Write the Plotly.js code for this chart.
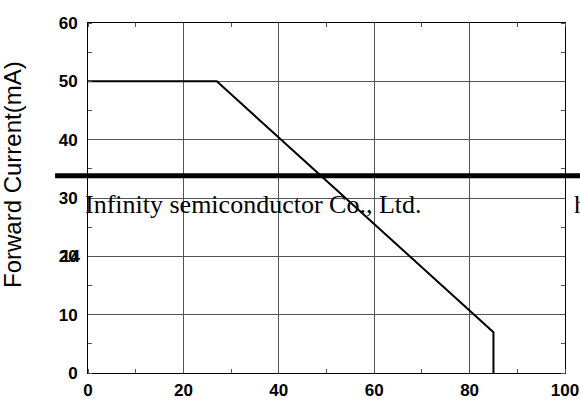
<!DOCTYPE html>
<html><head><meta charset="utf-8">
<script src="https://cdn.plot.ly/plotly-3.0.1.min.js"></script>
<style>html,body{margin:0;padding:0;background:#fff;overflow:hidden}#chart{width:580px;height:401px}</style>
</head><body><div id="chart"></div>
<script>
// Derating curve data (ambient temperature vs forward current)
const temperature = [0, 27, 85, 85];
const forwardCurrent = [50, 50, 7, 0];
const xTickVals = [0, 20, 40, 60, 80, 100];
const yTickVals = [0, 10, 20, 30, 40, 50, 60];
const yTitle = 'Forward Current(mA)';
const watermarkText = 'Infinity semiconductor Co., Ltd.';
const watermarkTail = 'h';
const overlapLabel = '14';

const tickFont = {family: 'Liberation Sans, Arial, sans-serif', size: 17, color: '#000', weight: 'bold'};
const serifFont = {family: 'Liberation Serif, Times New Roman, serif', size: 26, color: '#000'};

const trace = {
  x: temperature, y: forwardCurrent, type: 'scatter', mode: 'lines',
  line: {color: '#000', width: 2}, hoverinfo: 'skip', showlegend: false
};

const layout = {
  width: 580, height: 401,
  margin: {l: 88, r: 15, t: 23, b: 28, pad: 0},
  paper_bgcolor: '#fff', plot_bgcolor: '#fff',
  xaxis: {
    range: [0, 100], tickvals: xTickVals, ticktext: xTickVals.map(String),
    showgrid: true, gridcolor: '#555', gridwidth: 1,
    showline: true, linecolor: '#000', linewidth: 1, mirror: 'ticks',
    ticks: '', zeroline: false, tickfont: tickFont, ticklabelstandoff: 2,
    minor: {dtick: 10, tick0: 0, ticks: 'inside', ticklen: 4, tickcolor: '#555', showgrid: false}
  },
  yaxis: {
    range: [0, 60], tickvals: yTickVals, ticktext: yTickVals.map(String),
    showgrid: true, gridcolor: '#555', gridwidth: 1,
    showline: true, linecolor: '#000', linewidth: 1, mirror: 'ticks',
    ticks: '', zeroline: false, tickfont: tickFont, ticklabelstandoff: 6,
    minor: {dtick: 5, tick0: 0, ticks: 'inside', ticklen: 4, tickcolor: '#555', showgrid: false}
  },
  shapes: [{
    type: 'line', xref: 'paper', yref: 'y', x0: -0.069, x1: 1.1, y0: 33.8, y1: 33.8,
    line: {color: '#000', width: 5}
  }],
  annotations: [
    {text: yTitle, xref: 'paper', yref: 'paper', x: -0.157, y: 0.566, xanchor: 'center', yanchor: 'middle',
     textangle: -90, showarrow: false, font: {family: 'Liberation Sans, Arial, sans-serif', size: 24, color: '#000'}},
    {text: watermarkText, xref: 'paper', yref: 'paper', x: -0.01, y: 0.481, xanchor: 'left', yanchor: 'middle',
     showarrow: false, font: serifFont},
    {text: watermarkTail, xref: 'paper', yref: 'paper', x: 1.015, y: 0.481, xanchor: 'left', yanchor: 'middle',
     showarrow: false, font: serifFont},
    {text: overlapLabel, xref: 'paper', yref: 'y', x: -0.013, y: 20, xanchor: 'right', yanchor: 'middle',
     showarrow: false, font: tickFont}
  ]
};

Plotly.newPlot('chart', [trace], layout, {staticPlot: true, displayModeBar: false});
</script></body></html>
